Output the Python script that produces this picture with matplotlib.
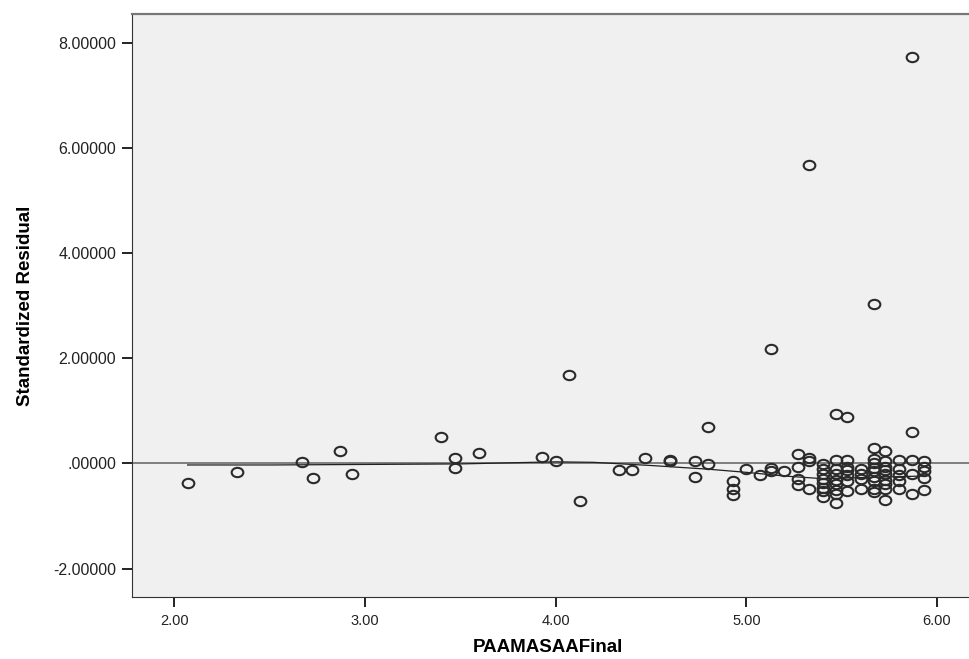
import matplotlib
matplotlib.use("Agg")
import matplotlib.pyplot as plt
from matplotlib.path import Path
from matplotlib.transforms import Affine2D
from matplotlib.ticker import FuncFormatter

# data (x = PAAMASAAFinal, y = standardized residual)
x_left = [2.07, 2.33, 2.67, 2.73, 2.87, 2.93, 3.40, 3.47, 3.47, 3.60,
          3.93, 4.00, 4.07, 4.13, 4.33, 4.40, 4.47, 4.60, 4.60, 4.73,
          4.73, 4.80, 4.80, 4.93, 4.93, 4.93, 5.00, 5.07, 5.13, 5.13,
          5.13, 5.20]
y_left = [-0.37, -0.17, 0.02, -0.27, 0.23, -0.20, 0.50, 0.10, -0.09, 0.19,
          0.13, 0.04, 1.68, -0.71, -0.12, -0.13, 0.10, 0.06, 0.04, 0.04,
          -0.25, 0.70, -0.02, -0.33, -0.48, -0.60, -0.10, -0.23, 2.18, -0.08,
          -0.15, -0.15]

x_right = [5.27] * 4 + [5.33] * 4 + [5.40] * 8 + [5.47] * 9 + [5.53] * 7 \
    + [5.60] * 4 + [5.67] * 10 + [5.73] * 9 + [5.80] * 5 + [5.87] * 5 + [5.93] * 5
y_right = [0.17, -0.06, -0.29, -0.42,
           5.68, 0.10, 0.04, -0.48,
           -0.02, -0.10, -0.21, -0.29, -0.38, -0.46, -0.53, -0.63,
           0.93, 0.06, -0.10, -0.21, -0.31, -0.40, -0.50, -0.59, -0.76,
           0.88, 0.06, -0.06, -0.13, -0.23, -0.34, -0.52,
           -0.10, -0.21, -0.29, -0.48,
           3.04, 0.29, 0.08, 0.0, -0.08, -0.15, -0.25, -0.34, -0.48, -0.54,
           0.23, 0.04, -0.06, -0.13, -0.21, -0.31, -0.40, -0.48, -0.69,
           0.06, -0.10, -0.23, -0.33, -0.48,
           7.72, 0.59, 0.06, -0.21, -0.59,
           0.04, -0.06, -0.15, -0.27, -0.50]

xs = x_left + x_right
ys = y_left + y_right

# loess fit line
fit_x = [2.07, 2.5, 3.0, 3.5, 4.0, 4.2, 4.5, 4.8, 5.0, 5.2, 5.4, 5.6, 5.93]
fit_y = [-0.03, -0.03, -0.02, -0.01, 0.03, 0.02, -0.04, -0.11, -0.17, -0.24, -0.29, -0.27, -0.24]

narrow = ['Liberation Sans Narrow', 'Liberation Sans', 'DejaVu Sans']

fig = plt.figure(figsize=(9.69, 6.59), dpi=100)
ax = fig.add_axes([0.1358, 0.0941, 0.8642, 0.8847])
ax.set_facecolor('#f0f0f0')

# slightly flattened circle like the spss marker
ell = Path.unit_circle().transformed(Affine2D().scale(1.0, 0.8))

ax.axhline(0, color='#606060', lw=1.1, zorder=1)
ax.plot(fit_x, fit_y, color='#202020', lw=0.9, zorder=2)
ax.plot(xs, ys, ls='none', marker=ell, markersize=8.4, markerfacecolor='none',
        markeredgecolor='#2a2a2a', markeredgewidth=1.5, zorder=3)

ax.set_xlim(1.776, 6.168)
ax.set_ylim(-2.54, 8.545)
ax.set_xticks([2, 3, 4, 5, 6])
ax.set_yticks([-2, 0, 2, 4, 6, 8])
ax.xaxis.set_major_formatter(FuncFormatter(lambda v, p: '%.2f' % v))


def yfmt(v, p):
    s = '%.5f' % v
    return s.replace('0.', '.', 1) if s.startswith('0.') else s


ax.yaxis.set_major_formatter(FuncFormatter(yfmt))
ax.tick_params(direction='out', length=7.5, width=1.4, color='#222222',
               labelcolor='#222222')
ax.tick_params(axis='x', pad=5)
for lab in ax.get_xticklabels():
    lab.set_family(narrow)
    lab.set_fontsize(10.5)
for lab in ax.get_yticklabels():
    lab.set_family(['Liberation Sans', 'DejaVu Sans'])
    lab.set_fontsize(11.5)

ax.spines['right'].set_visible(False)
ax.spines['left'].set_color('#333333')
ax.spines['bottom'].set_color('#333333')
ax.spines['top'].set_color('#777777')
ax.spines['top'].set_linewidth(1.6)

ax.set_xlabel('PAAMASAAFinal', family=narrow, fontweight='bold', fontsize=13.5)
ax.set_ylabel('Standardized Residual', family=narrow, fontweight='bold', fontsize=13.5)
ax.xaxis.set_label_coords(0.497, -0.072)
ax.yaxis.set_label_coords(-0.117, 0.5)

fig.savefig('out.png', dpi=100)
